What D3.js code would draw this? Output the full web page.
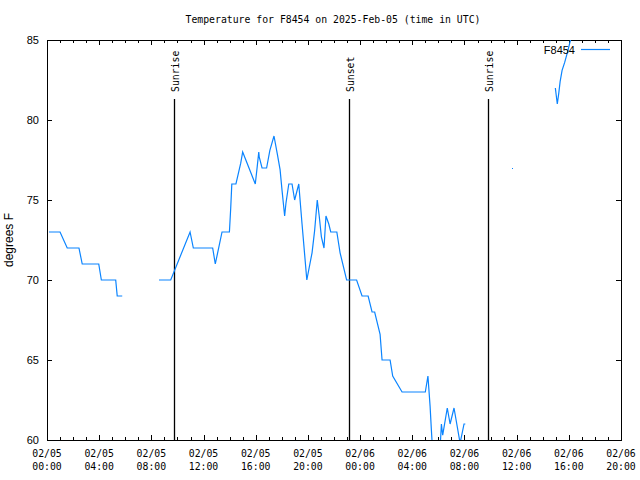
<!DOCTYPE html>
<html>
<head>
<meta charset="utf-8">
<script src="https://cdn.jsdelivr.net/npm/d3@7"></script>
<style>
  html, body { margin: 0; padding: 0; background: #fff; }
  svg { display: block; }
</style>
</head>
<body>
<svg id="chart" width="640" height="480"></svg>
<script>
// ---- data ----
const chartTitle = "Temperature for F8454 on 2025-Feb-05 (time in UTC)";
const seriesName = "F8454";
const yLabel = "degrees F";
const yTicks = [60, 65, 70, 75, 80, 85];
const xDomain = ["2025-02-05T00:00Z", "2025-02-06T20:00Z"];
const sunEvents = [
  { label: "Sunrise", time: "2025-02-05T09:45Z" },
  { label: "Sunset",  time: "2025-02-05T23:10Z" },
  { label: "Sunrise", time: "2025-02-06T09:50Z" }
];
// null marks a gap in the record
const times = [
  "2025-02-05T00:09Z","2025-02-05T01:00Z","2025-02-05T01:33Z","2025-02-05T02:27Z","2025-02-05T02:42Z",
  "2025-02-05T03:58Z","2025-02-05T04:10Z","2025-02-05T05:16Z","2025-02-05T05:23Z","2025-02-05T05:46Z",
  null,
  "2025-02-05T08:35Z","2025-02-05T09:29Z","2025-02-05T10:58Z","2025-02-05T11:13Z","2025-02-05T12:42Z",
  "2025-02-05T12:54Z","2025-02-05T13:25Z","2025-02-05T13:59Z","2025-02-05T14:05Z","2025-02-05T14:10Z",
  "2025-02-05T14:29Z","2025-02-05T14:51Z","2025-02-05T15:00Z","2025-02-05T15:58Z","2025-02-05T16:07Z",
  "2025-02-05T16:14Z","2025-02-05T16:16Z","2025-02-05T16:29Z","2025-02-05T16:50Z","2025-02-05T17:05Z",
  "2025-02-05T17:24Z","2025-02-05T17:39Z","2025-02-05T17:52Z","2025-02-05T18:01Z","2025-02-05T18:13Z",
  "2025-02-05T18:19Z","2025-02-05T18:32Z","2025-02-05T18:47Z","2025-02-05T18:59Z","2025-02-05T19:18Z",
  "2025-02-05T19:33Z","2025-02-05T19:55Z","2025-02-05T20:19Z","2025-02-05T20:31Z","2025-02-05T20:43Z",
  "2025-02-05T20:52Z","2025-02-05T21:02Z","2025-02-05T21:14Z","2025-02-05T21:23Z","2025-02-05T21:36Z",
  "2025-02-05T21:45Z","2025-02-05T22:13Z","2025-02-05T22:28Z","2025-02-05T22:58Z","2025-02-05T23:44Z",
  "2025-02-06T00:09Z","2025-02-06T00:37Z","2025-02-06T00:55Z","2025-02-06T01:07Z","2025-02-06T01:32Z",
  "2025-02-06T01:41Z","2025-02-06T02:18Z","2025-02-06T02:30Z","2025-02-06T03:13Z","2025-02-06T05:00Z",
  "2025-02-06T05:12Z","2025-02-06T05:22Z","2025-02-06T05:28Z","2025-02-06T05:35Z","2025-02-06T05:54Z",
  "2025-02-06T06:08Z","2025-02-06T06:14Z","2025-02-06T06:20Z","2025-02-06T06:41Z","2025-02-06T06:54Z",
  "2025-02-06T07:12Z","2025-02-06T07:40Z","2025-02-06T07:58Z","2025-02-06T08:04Z",
  null,
  "2025-02-06T11:40Z",
  null,
  "2025-02-06T14:58Z","2025-02-06T15:07Z","2025-02-06T15:14Z","2025-02-06T15:20Z","2025-02-06T15:29Z",
  "2025-02-06T15:41Z","2025-02-06T15:53Z","2025-02-06T16:06Z","2025-02-06T16:19Z"
];
const temps = [
  73, 73, 72, 72, 71,
  71, 70, 70, 69, 69,
  null,
  70, 70, 73, 72, 72,
  71, 73, 73, 74.5, 76,
  76, 77.3, 78, 76, 77.1,
  78, 77.7, 77, 77, 78.1,
  79, 77.9, 76.9, 75.6, 74,
  74.8, 76, 76, 75, 76,
  73.5, 70, 71.7, 73.1, 75,
  74, 72.7, 72, 74, 73.5,
  73, 73, 71.7, 70, 70,
  69, 69, 68, 68, 66.6,
  65, 65, 64, 63, 63,
  64, 62.1, 60.6, 59, 58.5,
  59.5, 61, 60.3, 62, 61,
  62, 59.8, 61, 61,
  null,
  77,
  null,
  82, 81, 81.7, 82.4, 83.1,
  83.6, 84.2, 84.9, 85.6
];

// ---- layout ----
const M = { left: 47, right: 621, top: 40, bottom: 440 };
const mono = "'DejaVu Sans Mono', 'Liberation Mono', monospace";
const sans = "'Liberation Sans', Arial, sans-serif";
const lineColor = "#0a84ff";

const svg = d3.select("#chart");
const parse = d3.isoParse;
const x = d3.scaleUtc().domain(xDomain.map(parse)).range([M.left, M.right]);
const y = d3.scaleLinear().domain([60, 85]).range([M.bottom, M.top]);

const data = times.map((t, i) => ({ t: t ? parse(t) : null, v: temps[i] }));

svg.append("defs").append("clipPath").attr("id", "clip")
  .append("rect").attr("x", M.left).attr("y", M.top)
  .attr("width", M.right - M.left).attr("height", M.bottom - M.top);

// title
svg.append("text").attr("x", 333).attr("y", 23).attr("text-anchor", "middle")
  .style("font-family", mono).style("font-size", "9.8px").attr("fill", "#000").text(chartTitle);

// axes
const hourTicks = d3.utcHour.every(1).range(x.domain()[0], d3.utcHour.offset(x.domain()[1], 1));
const majorTicks = d3.utcHour.every(4).range(x.domain()[0], d3.utcHour.offset(x.domain()[1], 1));
const fmtD = d3.utcFormat("%m/%d"), fmtT = d3.utcFormat("%H:%M");

const xb = svg.append("g").attr("transform", `translate(0,${M.bottom})`)
  .call(d3.axisBottom(x).tickValues(hourTicks).tickSize(-3).tickFormat(""));
const xbMaj = svg.append("g").attr("transform", `translate(0,${M.bottom})`)
  .call(d3.axisBottom(x).tickValues(majorTicks).tickSize(-5).tickFormat(""));
const xt = svg.append("g").attr("transform", `translate(0,${M.top})`)
  .call(d3.axisTop(x).tickValues(hourTicks).tickSize(-3).tickFormat(""));
const xtMaj = svg.append("g").attr("transform", `translate(0,${M.top})`)
  .call(d3.axisTop(x).tickValues(majorTicks).tickSize(-5).tickFormat(""));
const yl = svg.append("g").attr("transform", `translate(${M.left},0)`)
  .call(d3.axisLeft(y).tickValues(yTicks).tickSize(-5).tickPadding(8).tickFormat(d3.format("d")));
const yr = svg.append("g").attr("transform", `translate(${M.right},0)`)
  .call(d3.axisRight(y).tickValues(yTicks).tickSize(-5).tickFormat(""));

[xb, xbMaj, xt, xtMaj, yl, yr].forEach(g => {
  g.select(".domain").remove();
  g.selectAll(".tick line").attr("stroke", "#000").attr("shape-rendering", "crispEdges");
});
yl.selectAll(".tick text").style("font-family", sans).style("font-size", "11px").attr("fill", "#000");

// x tick labels (two lines)
const lbl = svg.append("g");
majorTicks.forEach(d => {
  const t = lbl.append("text").attr("x", x(d)).attr("text-anchor", "middle")
    .style("font-family", mono).style("font-size", "9.8px").attr("fill", "#000");
  t.append("tspan").attr("x", x(d)).attr("y", 457).text(fmtD(d));
  t.append("tspan").attr("x", x(d)).attr("y", 470).text(fmtT(d));
});

// frame
svg.append("rect").attr("x", M.left + 0.5).attr("y", M.top + 0.5)
  .attr("width", M.right - M.left).attr("height", M.bottom - M.top)
  .attr("fill", "none").attr("stroke", "#000").attr("shape-rendering", "crispEdges");

// y label
svg.append("text").attr("transform", `translate(13,240) rotate(-90)`)
  .attr("text-anchor", "middle").style("font-family", sans).style("font-size", "12px")
  .attr("fill", "#000").text(yLabel);

// sun events
sunEvents.forEach(e => {
  const xe = Math.round(x(parse(e.time))) + 0.5;
  svg.append("line").attr("x1", xe).attr("x2", xe).attr("y1", 99).attr("y2", M.bottom)
    .attr("stroke", "#000").attr("stroke-width", 1.3);
  svg.append("text").attr("transform", `translate(${xe + 4},92) rotate(-90)`)
    .attr("text-anchor", "start")
    .style("font-family", mono).style("font-size", "9.8px").attr("fill", "#000").text(e.label);
});

// data line
const line = d3.line().defined(d => d.t !== null && d.v !== null)
  .x(d => x(d.t)).y(d => y(d.v));
const plot = svg.append("g").attr("clip-path", "url(#clip)");
plot.append("path").datum(data).attr("d", line)
  .attr("fill", "none").attr("stroke", lineColor).attr("stroke-width", 1.2);
// isolated points
data.forEach((d, i) => {
  if (d.t === null) return;
  const prev = data[i - 1], next = data[i + 1];
  if ((!prev || prev.t === null) && (!next || next.t === null)) {
    plot.append("rect").attr("x", Math.round(x(d.t))).attr("y", Math.round(y(d.v)))
      .attr("width", 1).attr("height", 1).attr("fill", lineColor);
  }
});

// legend
svg.append("text").attr("x", 575).attr("y", 54).attr("text-anchor", "end")
  .style("font-family", sans).style("font-size", "11px").attr("fill", "#000").text(seriesName);
svg.append("line").attr("x1", 581).attr("x2", 610).attr("y1", 49.5).attr("y2", 49.5)
  .attr("stroke", lineColor).attr("stroke-width", 1.2);
</script>
</body>
</html>
